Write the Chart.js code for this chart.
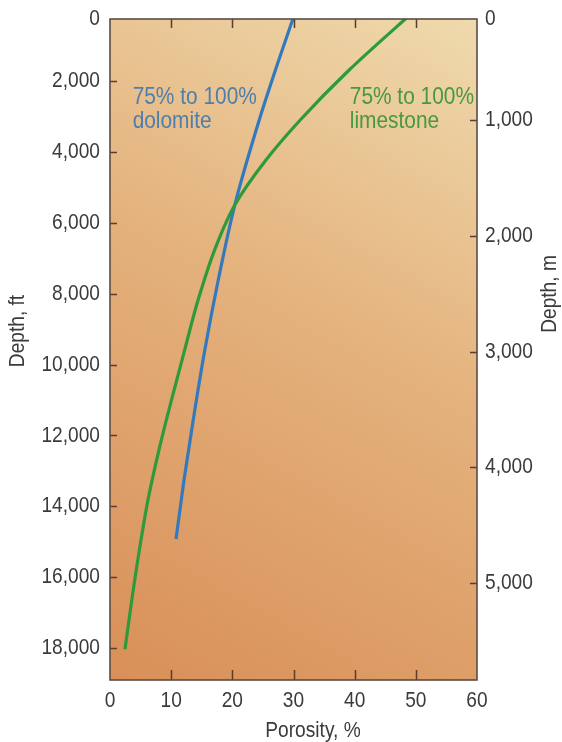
<!DOCTYPE html>
<html>
<head>
<meta charset="utf-8">
<title>Porosity vs depth</title>
<script src="https://cdn.jsdelivr.net/npm/chart.js@4.4.1/dist/chart.umd.min.js"></script>
<style>
html, body { margin: 0; padding: 0; background: #fff; }
#wrap { width: 562px; height: 742px; }
</style>
</head>
<body>
<div id="wrap"><canvas id="porosityChart" width="562" height="742"></canvas></div>
<script>
// values: porosity (%) against depth (ft)
const dolomitePorosity = [30.4, 27.6, 24.4, 20.4, 17.7, 15.5, 13.6, 12.1, 10.8];
const dolomiteDepth = [0, 1407, 3100, 5500, 7615, 9590, 11570, 13260, 14920];
const limestonePorosity = [49.9, 39.1, 31.1, 25.5, 20.4, 17.1, 14.4, 12.2, 10.05, 8.0, 6.2, 4.8, 3.56, 2.45];
const limestoneDepth = [0, 1689, 3100, 4229, 5499, 6769, 8180, 9591, 11002, 12413, 13824, 15235, 16646, 18030];

const porosityTicks = [0, 10, 20, 30, 40, 50, 60];
const depthFtTicks = [0, 2000, 4000, 6000, 8000, 10000, 12000, 14000, 16000, 18000];
const depthMTicks = [0, 1000, 2000, 3000, 4000, 5000];

// no condensed face installed, so squeeze Liberation Sans a little
const FONT = "'Liberation Sans', Arial, sans-serif";
const SQUEEZE = 0.87;
const TEXT = '#3b3b3b';

function toPoints(xs, ys) {
    return xs.map((x, i) => ({ x: x, y: ys[i] }));
}

function fmt(v) {
    return v.toLocaleString('en-US');
}

function drawText(ctx, text, x, y, align, size, color, vertical) {
    ctx.save();
    ctx.translate(x, y);
    if (vertical) ctx.rotate(-Math.PI / 2);
    ctx.scale(SQUEEZE, 1);
    ctx.font = size + 'px ' + FONT;
    ctx.fillStyle = color;
    ctx.textAlign = align;
    ctx.textBaseline = 'middle';
    ctx.fillText(text, 0, 0);
    ctx.restore();
}

const backgroundPlugin = {
    id: 'background',
    beforeDraw(chart) {
        const { ctx, chartArea: a } = chart;
        ctx.save();
        ctx.fillStyle = '#fff';
        ctx.fillRect(0, 0, chart.width, chart.height);
        const g = ctx.createLinearGradient(a.right, a.top, a.left, a.bottom);
        g.addColorStop(0, '#efdaad');
        g.addColorStop(0.45, '#e4b27d');
        g.addColorStop(1, '#d98f58');
        ctx.fillStyle = g;
        ctx.fillRect(a.left, a.top, a.right - a.left, a.bottom - a.top);
        ctx.restore();
    }
};

const framePlugin = {
    id: 'frame',
    afterDatasetsDraw(chart) {
        const { ctx, chartArea: a, scales } = chart;
        const x = scales.x, y = scales.y, y2 = scales.y2;
        ctx.save();

        // inward tick marks
        ctx.strokeStyle = '#5e3b2c';
        ctx.lineWidth = 1.5;
        ctx.beginPath();
        porosityTicks.slice(1, -1).forEach(v => {
            const px = Math.round(x.getPixelForValue(v)) + 0.5;
            ctx.moveTo(px, a.bottom); ctx.lineTo(px, a.bottom - 10);
            ctx.moveTo(px, a.top); ctx.lineTo(px, a.top + 9);
        });
        depthFtTicks.slice(1).forEach(v => {
            const py = Math.round(y.getPixelForValue(v)) + 0.5;
            ctx.moveTo(a.left, py); ctx.lineTo(a.left + 7, py);
        });
        depthMTicks.slice(1).forEach(v => {
            const py = Math.round(y2.getPixelForValue(v)) + 0.5;
            ctx.moveTo(a.right, py); ctx.lineTo(a.right - 7, py);
        });
        ctx.stroke();

        // plot frame
        ctx.strokeStyle = '#5a4d45';
        ctx.lineWidth = 1.6;
        ctx.strokeRect(a.left, a.top, a.right - a.left, a.bottom - a.top);
        ctx.restore();

        // tick labels; the zero sits on the top edge
        porosityTicks.forEach(v => drawText(ctx, fmt(v), x.getPixelForValue(v), a.bottom + 21, 'center', 22, TEXT));
        depthFtTicks.forEach(v => drawText(ctx, fmt(v), a.left - 10, y.getPixelForValue(Math.max(v, y.min)), 'right', 22, TEXT));
        depthMTicks.forEach(v => drawText(ctx, fmt(v), a.right + 8, y2.getPixelForValue(Math.max(v, y2.min)), 'left', 22, TEXT));

        // curve labels
        let lx = x.getPixelForValue(3.7);
        drawText(ctx, '75% to 100%', lx, y.getPixelForValue(2450), 'left', 24, '#4e7eab');
        drawText(ctx, 'dolomite', lx, y.getPixelForValue(3130), 'left', 24, '#4e7eab');
        lx = x.getPixelForValue(39.2);
        drawText(ctx, '75% to 100%', lx, y.getPixelForValue(2450), 'left', 24, '#46993f');
        drawText(ctx, 'limestone', lx, y.getPixelForValue(3130), 'left', 24, '#46993f');

        // axis titles
        drawText(ctx, 'Porosity, %', 313, 731, 'center', 22, TEXT);
        drawText(ctx, 'Depth, ft', 18, 331, 'center', 22, TEXT, true);
        drawText(ctx, 'Depth, m', 550, 294, 'center', 22, TEXT, true);
    }
};

const ctx = document.getElementById('porosityChart').getContext('2d');
const porosityChart = new Chart(ctx, {
    type: 'line',
    data: {
        datasets: [{
            label: 'limestone',
            data: toPoints(limestonePorosity, limestoneDepth),
            borderColor: '#2e9a3b',
            borderWidth: 3.2,
            pointRadius: 0,
            cubicInterpolationMode: 'monotone',
            clip: 0
        }, {
            label: 'dolomite',
            data: toPoints(dolomitePorosity, dolomiteDepth),
            borderColor: '#3479bd',
            borderWidth: 3.2,
            pointRadius: 0,
            cubicInterpolationMode: 'monotone',
            clip: 0
        }]
    },
    options: {
        responsive: false,
        devicePixelRatio: 1,
        animation: false,
        indexAxis: 'y',
        layout: { padding: { top: 19, left: 0, right: 0, bottom: 0 } },
        plugins: {
            legend: { display: false },
            tooltip: { enabled: false }
        },
        scales: {
            x: {
                type: 'linear',
                position: 'bottom',
                min: 0,
                max: 60,
                grid: { display: false },
                border: { display: false },
                ticks: { display: false },
                afterFit: s => { s.height = 62; }
            },
            y: {
                type: 'linear',
                position: 'left',
                reverse: true,
                min: 250,
                max: 18900,
                grid: { display: false },
                border: { display: false },
                ticks: { display: false },
                afterFit: s => { s.width = 110; }
            },
            y2: {
                type: 'linear',
                position: 'right',
                reverse: true,
                min: 127,
                max: 5838,
                grid: { display: false },
                border: { display: false },
                ticks: { display: false },
                afterFit: s => { s.width = 85; }
            }
        }
    },
    plugins: [backgroundPlugin, framePlugin]
});
</script>
</body>
</html>
